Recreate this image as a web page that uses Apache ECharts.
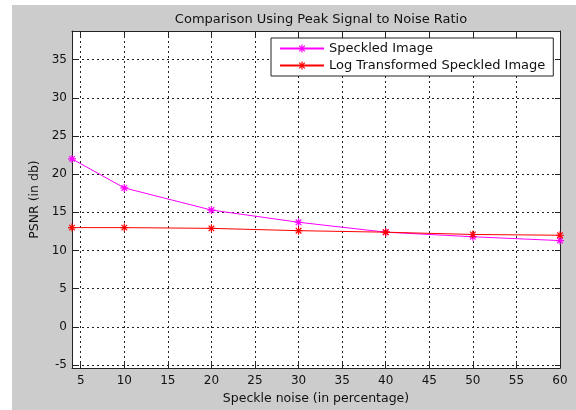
<!DOCTYPE html>
<html>
<head>
<meta charset="utf-8">
<script src="https://cdn.jsdelivr.net/npm/echarts@6/dist/echarts.min.js"></script>
<style>
html,body{margin:0;padding:0;background:#fff;}
#chart{width:576px;height:410px;}
</style>
</head>
<body>
<div id="chart"></div>
<script>
const xValues = [4, 10, 20, 30, 40, 50, 60];
const speckled = [22.0, 18.2, 15.3, 13.7, 12.4, 11.8, 11.3];
const logTransformed = [13.0, 13.0, 12.9, 12.6, 12.4, 12.1, 12.0];
const xTicks = [5, 10, 15, 20, 25, 30, 35, 40, 45, 50, 55, 60];
const yTicks = [-5, 0, 5, 10, 15, 20, 25, 30, 35];
const seriesNames = ['Speckled Image', 'Log Transformed Speckled Image'];

const FONT = 'DejaVu Sans';
const asterisk = 'path://M8.5 0L11.5 0L11.5 20L8.5 20Z M0 8.5L20 8.5L20 11.5L0 11.5Z M1.94 4.06L4.06 1.94L18.06 15.94L15.94 18.06Z M15.94 1.94L18.06 4.06L4.06 18.06L1.94 15.94Z';

const X_MIN = 4, X_MAX = 60, Y_MIN = -5.4, Y_MAX = 38.75;

const gridDash = { show: true, lineStyle: { color: '#222', width: 1, type: [2, 3] } };
const axisLineStyle = { show: true, onZero: false, lineStyle: { color: '#222', width: 1 } };

function pairs(ys) { return xValues.map((x, i) => [x, ys[i]]); }

const chart = echarts.init(document.getElementById('chart'), null, { renderer: 'canvas' });
chart.setOption({
  animation: false,
  backgroundColor: '#cccccc',
  textStyle: { fontFamily: FONT },
  graphic: [
    { type: 'rect', left: 0, top: 0, shape: { width: 12, height: 410 }, style: { fill: '#ffffff' } },
    { type: 'rect', left: 0, top: 0, shape: { width: 576, height: 5 }, style: { fill: '#ffffff' } }
  ],
  title: {
    text: 'Comparison Using Peak Signal to Noise Ratio',
    left: 316, top: 8, textAlign: 'center',
    textStyle: { fontFamily: FONT, fontSize: 13, fontWeight: 'normal', color: '#111' }
  },
  grid: { left: 72, right: 16, top: 31, bottom: 41, show: true, backgroundColor: '#ffffff', borderWidth: 0 },
  legend: {
    orient: 'vertical', left: 271, top: 38,
    padding: [4, 8, 4, 8], itemGap: 4, itemWidth: 44, itemHeight: 10,
    backgroundColor: '#ffffff', borderColor: '#222', borderWidth: 1, borderRadius: 0,
    textStyle: { fontFamily: FONT, fontSize: 13, color: '#111' },
    data: seriesNames
  },
  xAxis: [{
    type: 'value', min: X_MIN, max: X_MAX, position: 'bottom',
    name: 'Speckle noise (in percentage)', nameLocation: 'middle', nameGap: 22,
    nameTextStyle: { fontFamily: FONT, fontSize: 12.5, color: '#111' },
    axisLine: axisLineStyle,
    axisTick: { show: true, inside: true, length: 5, customValues: xTicks, lineStyle: { color: '#222' } },
    axisLabel: { customValues: xTicks, margin: 7, fontFamily: FONT, fontSize: 12, color: '#111' },
    splitLine: gridDash
  }, {
    type: 'value', min: X_MIN, max: X_MAX, position: 'top',
    axisLine: axisLineStyle,
    axisTick: { show: true, inside: true, length: 5, customValues: xTicks, lineStyle: { color: '#222' } },
    axisLabel: { show: false, customValues: xTicks },
    splitLine: { show: false }
  }],
  yAxis: [{
    type: 'value', min: Y_MIN, max: Y_MAX, position: 'left',
    name: 'PSNR (in db)', nameLocation: 'middle', nameGap: 30,
    nameTextStyle: { fontFamily: FONT, fontSize: 12.5, color: '#111' },
    axisLine: axisLineStyle,
    axisTick: { show: true, inside: true, length: 5, customValues: yTicks, lineStyle: { color: '#222' } },
    axisLabel: { customValues: yTicks, margin: 5, fontFamily: FONT, fontSize: 12, color: '#111' },
    splitLine: gridDash
  }, {
    type: 'value', min: Y_MIN, max: Y_MAX, position: 'right',
    axisLine: axisLineStyle,
    axisTick: { show: true, inside: true, length: 5, customValues: yTicks, lineStyle: { color: '#222' } },
    axisLabel: { show: false, customValues: yTicks },
    splitLine: { show: false }
  }],
  series: [{
    name: seriesNames[0], type: 'line', xAxisIndex: 0, yAxisIndex: 0,
    data: pairs(speckled),
    symbol: asterisk, symbolSize: 8,
    lineStyle: { color: '#ff00ff', width: 1 },
    itemStyle: { color: '#ff00ff' },
    z: 3
  }, {
    name: seriesNames[1], type: 'line', xAxisIndex: 0, yAxisIndex: 0,
    data: pairs(logTransformed),
    symbol: asterisk, symbolSize: 8,
    lineStyle: { color: '#ff0000', width: 1 },
    itemStyle: { color: '#ff0000' },
    z: 4
  }]
});
</script>
</body>
</html>
